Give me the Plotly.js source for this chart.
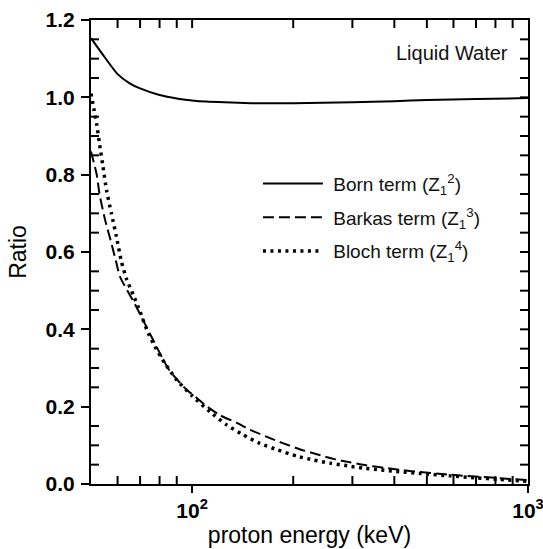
<!DOCTYPE html>
<html>
<head>
<meta charset="utf-8">
<script src="https://cdn.plot.ly/plotly-3.0.1.min.js"></script>
<style>html,body{margin:0;padding:0;background:#fff;}</style>
</head>
<body>
<div id="chart" style="width:543px;height:549px;"></div>
<script>
// Data
const bornE = [50, 55, 60, 65, 70, 80, 90, 100, 110, 125, 150, 200, 300, 400, 500, 700, 1000];
const bornR = [1.153, 1.103, 1.06, 1.037, 1.023, 1.006, 0.997, 0.992, 0.989, 0.987, 0.985, 0.985, 0.987, 0.990, 0.993, 0.996, 0.998];

const barkasE = [50, 52, 53, 55, 57.2, 59.5, 61, 67.6, 76.3, 85.4, 96.5, 103.5, 109, 121, 136, 149, 167, 187, 209, 235, 263, 295, 331, 380, 450, 585, 824, 1000];
const barkasR = [0.86, 0.80, 0.75, 0.685, 0.63, 0.572, 0.536, 0.465, 0.375, 0.295, 0.243, 0.222, 0.205, 0.178, 0.158, 0.140, 0.122, 0.105, 0.090, 0.077, 0.065, 0.056, 0.048, 0.041, 0.033, 0.024, 0.015, 0.010];

const blochE = [50, 51, 52, 53, 54.3, 55.6, 57.5, 59.5, 61.6, 63.8, 66.8, 70, 73.2, 77.5, 83, 90, 100, 113, 126.7, 142, 159, 180, 205, 230, 257, 290, 323, 366, 400, 480, 585, 700, 824, 1000];
const blochR = [1.01, 0.97, 0.93, 0.88, 0.82, 0.76, 0.70, 0.64, 0.575, 0.53, 0.489, 0.446, 0.40, 0.355, 0.312, 0.269, 0.228, 0.187, 0.153, 0.127, 0.105, 0.088, 0.072, 0.062, 0.054, 0.047, 0.041, 0.036, 0.033, 0.027, 0.021, 0.016, 0.012, 0.007];

const seriesNames = ['Born term (Z<sub>1</sub><sup>2</sup>)', 'Barkas term (Z<sub>1</sub><sup>3</sup>)', 'Bloch term (Z<sub>1</sub><sup>4</sup>)'];
const xMajorVals = [100, 1000];
const xMajorText = ['10<sup>2</sup>', '10<sup>3</sup>'];
const xMinorVals = [60, 70, 80, 90, 200, 300, 400, 500, 600, 700, 800, 900];
const xTopVals = [60, 70, 80, 90, 100, 200, 300, 400, 500, 600, 700, 800, 900];
const xRange = [50, 1000];
const yRange = [0, 1.2];
const yMajorStep = 0.2;
const yMinorStep = 0.05;
const annoText = 'Liquid Water';

const FONT = '"Liberation Sans", Arial, Helvetica, sans-serif';
const W = 543, H = 549;
const M = {l: 91, r: 15, t: 20, b: 65};
const logR = [Math.log10(xRange[0]), Math.log10(xRange[1])];

// Frame tick segments (inward), derived from the axis ranges and plot size
const TL = 8;
const plotW = W - M.l - M.r, plotH = H - M.t - M.b;
const dyTick = TL * (yRange[1] - yRange[0]) / plotH;
const dxFac = Math.pow(10, TL * (logR[1] - logR[0]) / plotW);
const tickX = [], tickY = [];
xMinorVals.forEach(v => { tickX.push(v, v, null); tickY.push(yRange[0], yRange[0] + dyTick, null); });
xTopVals.forEach(v => { tickX.push(v, v, null); tickY.push(yRange[1], yRange[1] - dyTick, null); });
const nY = Math.round((yRange[1] - yRange[0]) / yMinorStep);
for (let k = 1; k < nY; k++) {
  const v = +(yRange[0] + k * yMinorStep).toFixed(3);
  const isMajor = Math.abs(v / yMajorStep - Math.round(v / yMajorStep)) < 1e-6;
  if (!isMajor) { tickX.push(xRange[0], xRange[0] * dxFac, null); tickY.push(v, v, null); }
  tickX.push(xRange[1], xRange[1] / dxFac, null); tickY.push(v, v, null);
}

const traces = [
  {x: bornE, y: bornR, name: '&nbsp;' + seriesNames[0], mode: 'lines', legendgroup: 'a',
   line: {color: '#000', width: 2, dash: 'solid', shape: 'spline', smoothing: 0.6}},
  {x: barkasE, y: barkasR, name: '&nbsp;' + seriesNames[1], mode: 'lines', legendgroup: 'b',
   line: {color: '#000', width: 2, dash: '11px,5px', shape: 'spline', smoothing: 0.6}},
  {x: blochE, y: blochR, name: '&nbsp;' + seriesNames[2], mode: 'lines', legendgroup: 'c',
   line: {color: '#000', width: 3.5, dash: '3px,4.5px', shape: 'spline', smoothing: 0.6}},
  {x: tickX, y: tickY, mode: 'lines', showlegend: false, hoverinfo: 'skip', connectgaps: false,
   line: {color: '#000', width: 2, shape: 'linear'}}
];

const layout = {
  width: W, height: H,
  margin: {l: M.l, r: M.r, t: M.t, b: M.b, pad: 0},
  paper_bgcolor: '#fff', plot_bgcolor: '#fff',
  font: {family: FONT, color: '#000', size: 18},
  showlegend: true,
  legend: {
    x: 0.382, y: 0.688, xanchor: 'left', yanchor: 'top',
    bgcolor: 'rgba(0,0,0,0)', borderwidth: 0,
    font: {family: FONT, size: 19, color: '#111'},
    itemwidth: 60, tracegroupgap: 6, traceorder: 'grouped'
  },
  xaxis: {
    type: 'log', range: logR, autorange: false,
    showgrid: false, zeroline: false,
    showline: true, mirror: true, linecolor: '#000', linewidth: 2,
    tickmode: 'array', tickvals: xMajorVals, ticktext: xMajorText,
    ticks: 'outside', ticklen: 7, tickwidth: 2, tickcolor: '#000',
    ticklabeloverflow: 'allow',
    tickfont: {family: FONT, size: 21, weight: 'bold'},
    title: {text: 'proton energy (keV)', font: {family: FONT, size: 23}, standoff: 6}
  },
  yaxis: {
    range: yRange, autorange: false,
    showgrid: false, zeroline: false,
    showline: true, mirror: true, linecolor: '#000', linewidth: 2,
    tickmode: 'linear', tick0: 0, dtick: yMajorStep, tickformat: '.1f',
    ticks: 'outside', ticklen: 8, tickwidth: 2, tickcolor: '#000',
    ticklabelstandoff: 2,
    tickfont: {family: FONT, size: 21, weight: 'bold'},
    title: {text: 'Ratio', font: {family: FONT, size: 23}, standoff: 13}
  },
  annotations: [{
    text: annoText, xref: 'paper', yref: 'paper', x: 0.826, y: 0.929,
    xanchor: 'center', yanchor: 'middle', showarrow: false,
    font: {family: FONT, size: 20, color: '#111'}
  }]
};

Plotly.newPlot('chart', traces, layout, {displayModeBar: false});
</script>
</body>
</html>
